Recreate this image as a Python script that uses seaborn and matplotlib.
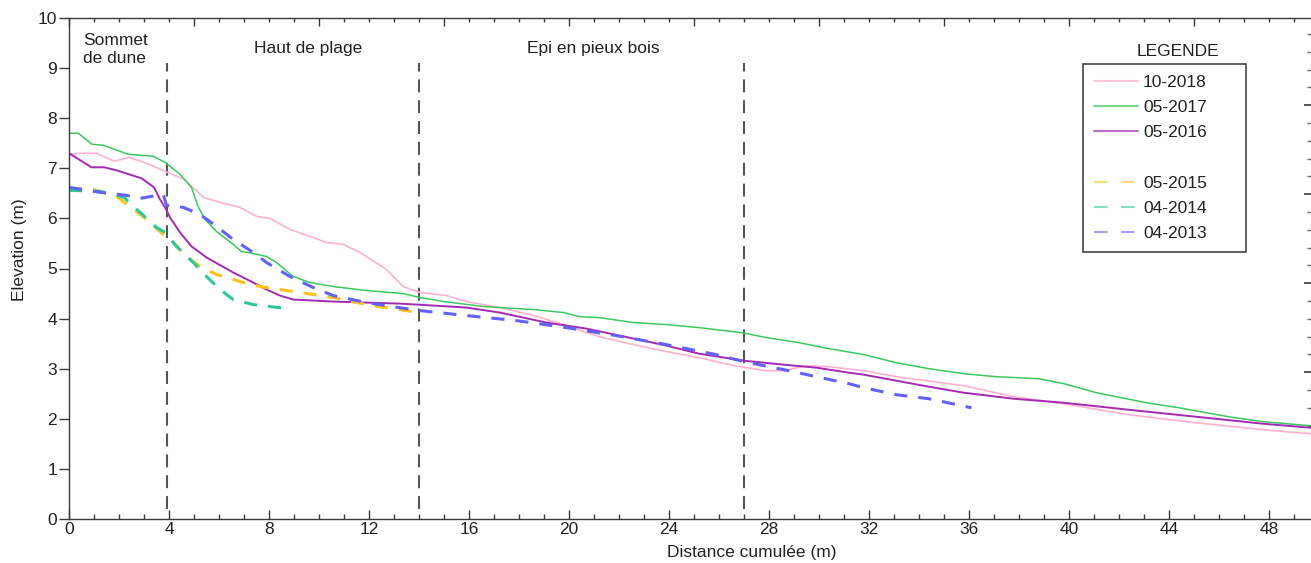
import numpy as np
import pandas as pd
import matplotlib
matplotlib.use("Agg")
import matplotlib.pyplot as plt
from matplotlib.ticker import MultipleLocator, FixedLocator
from matplotlib.lines import Line2D
import seaborn as sns

# Beach profile surveys: cumulative distance (m) / elevation (m)
dist_2018 = [0, 0.5, 1.1, 1.8, 2.4, 3.2, 3.84, 4.6, 4.9, 5.37, 6.04, 6.84, 7.5, 8.04,
             8.84, 9.64, 10.3, 10.97, 11.64, 12.7, 13.37, 14.04, 15.1, 15.9, 17.24,
             18.6, 19.9, 21.2, 22.6, 23.9, 25.2, 26.6, 27.9, 28.6, 29.5, 30.4, 31.8,
             33.1, 35.8, 37.8, 39.8, 42.4, 45.1, 47.8, 49.7]
elev_2018 = [7.28, 7.3, 7.3, 7.14, 7.22, 7.08, 6.94, 6.78, 6.64, 6.42, 6.32, 6.22, 6.04, 6.0,
             5.78, 5.64, 5.52, 5.48, 5.32, 4.98, 4.64, 4.52, 4.46, 4.34, 4.22,
             4.06, 3.86, 3.64, 3.48, 3.34, 3.22, 3.06, 2.96, 2.96, 3.06, 3.04, 2.96,
             2.84, 2.66, 2.44, 2.3, 2.08, 1.92, 1.78, 1.7]

dist_2017 = [0, 0.37, 0.92, 1.37, 2.37, 3.37, 3.84, 4.44, 4.9, 5.16, 5.44, 5.9, 6.57, 6.9,
             7.37, 7.9, 8.3, 8.97, 9.64, 10.57, 11.9, 13.37, 14.04, 15.0, 16.6, 18.6,
             19.8, 20.4, 21.2, 22.6, 23.9, 25.2, 26.9, 27.9, 29.2, 30.4, 31.8, 33.1,
             34.4, 35.8, 37.1, 38.8, 39.8, 41.1, 43.1, 44.4, 46.4, 47.8, 49.7]
elev_2017 = [7.7, 7.7, 7.48, 7.46, 7.28, 7.24, 7.12, 6.88, 6.62, 6.24, 5.98, 5.74, 5.48, 5.34,
             5.3, 5.24, 5.12, 4.84, 4.72, 4.64, 4.56, 4.5, 4.42, 4.34, 4.24, 4.18,
             4.12, 4.04, 4.02, 3.92, 3.88, 3.82, 3.72, 3.62, 3.52, 3.4, 3.28, 3.12,
             3.0, 2.9, 2.84, 2.8, 2.7, 2.52, 2.32, 2.22, 2.04, 1.94, 1.86]

dist_2016 = [0, 0.9, 1.4, 1.9, 2.4, 2.9, 3.4, 3.64, 3.84, 4.04, 4.44, 4.9, 5.5, 6.57,
             7.37, 7.9, 8.44, 8.97, 10.57, 13.2, 14.6, 15.9, 17.24, 19.1, 20.7, 22.6,
             23.9, 25.2, 27.0, 28.6, 29.9, 31.2, 31.8, 34.4, 35.8, 37.8, 39.8, 42.4,
             45.1, 47.8, 49.7]
elev_2016 = [7.3, 7.02, 7.02, 6.96, 6.88, 6.8, 6.62, 6.38, 6.22, 6.02, 5.72, 5.44, 5.22, 4.92,
             4.72, 4.58, 4.46, 4.38, 4.34, 4.3, 4.26, 4.22, 4.12, 3.92, 3.8, 3.6,
             3.46, 3.3, 3.16, 3.08, 3.02, 2.92, 2.88, 2.64, 2.52, 2.4, 2.32, 2.18,
             2.04, 1.9, 1.82]

dist_2015 = [0, 0.84, 1.24, 1.9, 2.6, 3.24, 3.77, 4.17, 4.7, 5.24, 5.9, 7.24, 7.9, 9.24,
             10.6, 11.9, 13.2, 14.04]
elev_2015 = [6.58, 6.6, 6.54, 6.44, 6.18, 5.92, 5.68, 5.52, 5.24, 5.04, 4.88, 4.68, 4.62, 4.52,
             4.42, 4.28, 4.18, 4.12]

dist_2014 = [0, 1.24, 2.2, 2.84, 3.5, 3.84, 4.3, 4.97, 5.5, 6.04, 6.57, 7.37, 8.7]
elev_2014 = [6.56, 6.54, 6.42, 6.12, 5.82, 5.72, 5.44, 5.12, 4.84, 4.58, 4.38, 4.28, 4.2]

dist_2013 = [0, 1.24, 2.3, 2.84, 3.77, 3.9, 4.57, 5.24, 5.9, 6.57, 7.37, 7.9, 8.84, 9.77,
             10.57, 11.9, 13.2, 14.04, 15.9, 17.9, 19.9, 21.9, 23.9, 25.9, 27.0, 28.6,
             29.9, 31.2, 31.8, 33.1, 34.4, 36.1]
elev_2013 = [6.62, 6.52, 6.46, 6.4, 6.48, 6.26, 6.22, 6.08, 5.84, 5.58, 5.32, 5.12, 4.84, 4.62,
             4.46, 4.32, 4.22, 4.16, 4.06, 3.96, 3.82, 3.66, 3.48, 3.28, 3.14, 2.98,
             2.84, 2.7, 2.62, 2.48, 2.4, 2.22]

surveys = ["10-2018", "05-2017", "05-2016", "05-2015", "04-2014", "04-2013"]
zone_limits = [3.9, 14, 27]
zone_names = ["Sommet\nde dune", "Haut de plage", "Epi en pieux bois"]

profiles = {
    "10-2018": (dist_2018, elev_2018),
    "05-2017": (dist_2017, elev_2017),
    "05-2016": (dist_2016, elev_2016),
    "05-2015": (dist_2015, elev_2015),
    "04-2014": (dist_2014, elev_2014),
    "04-2013": (dist_2013, elev_2013),
}
df = pd.concat(
    [pd.DataFrame({"distance": d, "elevation": e, "survey": s})
     for s, (d, e) in profiles.items()],
    ignore_index=True,
)

colors = {
    "10-2018": "#ffb0d0",
    "05-2017": "#3cc95e",
    "05-2016": "#a42ab4",
    "05-2015": "#ffc21a",
    "04-2014": "#2ec79c",
    "04-2013": "#6262fa",
}
dash_pat = (0, (4.3, 3.6))
styles = {
    "10-2018": dict(lw=1.2, ls="-"),
    "05-2017": dict(lw=1.1, ls="-"),
    "05-2016": dict(lw=1.4, ls="-"),
    "05-2015": dict(lw=2.2, ls=dash_pat),
    "04-2014": dict(lw=2.2, ls=dash_pat),
    "04-2013": dict(lw=2.2, ls=dash_pat),
}

sns.set_theme(style="ticks")
plt.rcParams["font.family"] = ["Liberation Sans", "DejaVu Sans"]
ink = "#222222"
axis_col = "#3a3a3a"
fs = 12.5

fig = plt.figure(figsize=(13.11, 5.63), dpi=100)
ax = fig.add_axes([69 / 1311, 44 / 563, 1242 / 1311, 501 / 563])

for s in surveys:
    sub = df[df["survey"] == s]
    sns.lineplot(data=sub, x="distance", y="elevation", ax=ax, color=colors[s],
                 linewidth=styles[s]["lw"], linestyle=styles[s]["ls"],
                 sort=False, estimator=None, legend=False)

# zone boundaries
for xv in zone_limits:
    ax.plot([xv, xv], [0.2, 9.1], color="#555555", lw=1.5,
            ls=(0, (6.2, 3.8)), zorder=1)

ax.set_xlim(0, 49.68)
ax.set_ylim(0, 10)
ax.set_xlabel("")
ax.set_ylabel("")

# spines and ticks
for side in ["left", "bottom"]:
    ax.spines[side].set_color(axis_col)
    ax.spines[side].set_linewidth(1.0)
ax.spines["top"].set_visible(False)
ax.spines["right"].set_visible(False)

ax.xaxis.set_major_locator(MultipleLocator(4))
ax.xaxis.set_minor_locator(MultipleLocator(1))
ax.set_yticks(range(0, 11))
ax.tick_params(axis="x", which="major", direction="in", length=6.5, width=1.0,
               color=axis_col, pad=2.5, labelsize=fs, labelcolor=ink)
ax.tick_params(axis="x", which="minor", direction="in", length=3.6, width=1.0,
               color=axis_col)
ax.tick_params(axis="y", which="major", direction="out", length=7, width=1.0,
               color=axis_col, pad=1.5, labelsize=fs, labelcolor=ink)

top = ax.secondary_xaxis("top")
top.spines["top"].set_color(axis_col)
top.spines["top"].set_linewidth(1.0)
top.xaxis.set_major_locator(MultipleLocator(5))
top.xaxis.set_minor_locator(MultipleLocator(1))
top.tick_params(axis="x", which="major", direction="in", length=5.5, width=1.0,
                color=axis_col, labeltop=False)
top.tick_params(axis="x", which="minor", direction="in", length=3.2, width=1.0,
                color=axis_col)

right = ax.twinx()
right.set_ylim(-0.65, 4.98)
right.grid(False)
for sp in right.spines.values():
    sp.set_visible(False)
right.yaxis.set_major_locator(FixedLocator([1, 2, 3, 4]))
right.set_yticks([v for v in np.arange(0.4, 4.81, 0.2) if abs(v - round(v)) > 0.05],
                 minor=True)
right.tick_params(axis="y", which="major", direction="in", length=5, width=1.2,
                  color=axis_col, labelright=False)
right.tick_params(axis="y", which="minor", direction="in", length=3, width=1.0,
                  color="#666666")

# zone names
ax.text(0.56, 9.37, zone_names[0], ha="left", va="center", fontsize=fs,
        color=ink, linespacing=1.3)
ax.text(9.56, 9.4, zone_names[1], ha="center", va="center", fontsize=fs, color=ink)
ax.text(20.96, 9.4, zone_names[2], ha="center", va="center", fontsize=fs, color=ink)

# axis titles
fig.text(752 / 1311, 1 - 552 / 563, "Distance cumulée (m)", ha="center", va="center",
         fontsize=fs, color=ink)
fig.text(20 / 1311, 1 - 250 / 563, "Elevation (m)", ha="center", va="center",
         rotation=90, fontsize=fs, color=ink)

# legend
right.text(44.36, 9.34, "LEGENDE", ha="center", va="center", fontsize=fs, color=ink,
           transform=ax.transData)
sample_dash = (0, (6.5, 6.5))
handles, labels = [], []
for s in surveys[:3]:
    handles.append(Line2D([], [], color=colors[s], lw=1.5, alpha=0.7))
    labels.append(s)
handles.append(Line2D([], [], color="none", lw=0))
labels.append(" ")
for s in surveys[3:]:
    handles.append(Line2D([], [], color=colors[s], lw=1.5, alpha=0.6, ls=sample_dash))
    labels.append(s)
leg = right.legend(handles, labels, loc="upper left",
                   bbox_to_anchor=(40.56, 5.36, 6.52, 3.72), bbox_transform=ax.transData,
                   mode="expand", borderaxespad=0, fontsize=fs, frameon=True,
                   fancybox=False, shadow=False, framealpha=1, edgecolor="#444444",
                   handlelength=2.53, handletextpad=0.3, labelspacing=0.58,
                   borderpad=0.62, labelcolor=ink)
leg.get_frame().set_linewidth(1.2)

fig.savefig("out.png", dpi=100)
